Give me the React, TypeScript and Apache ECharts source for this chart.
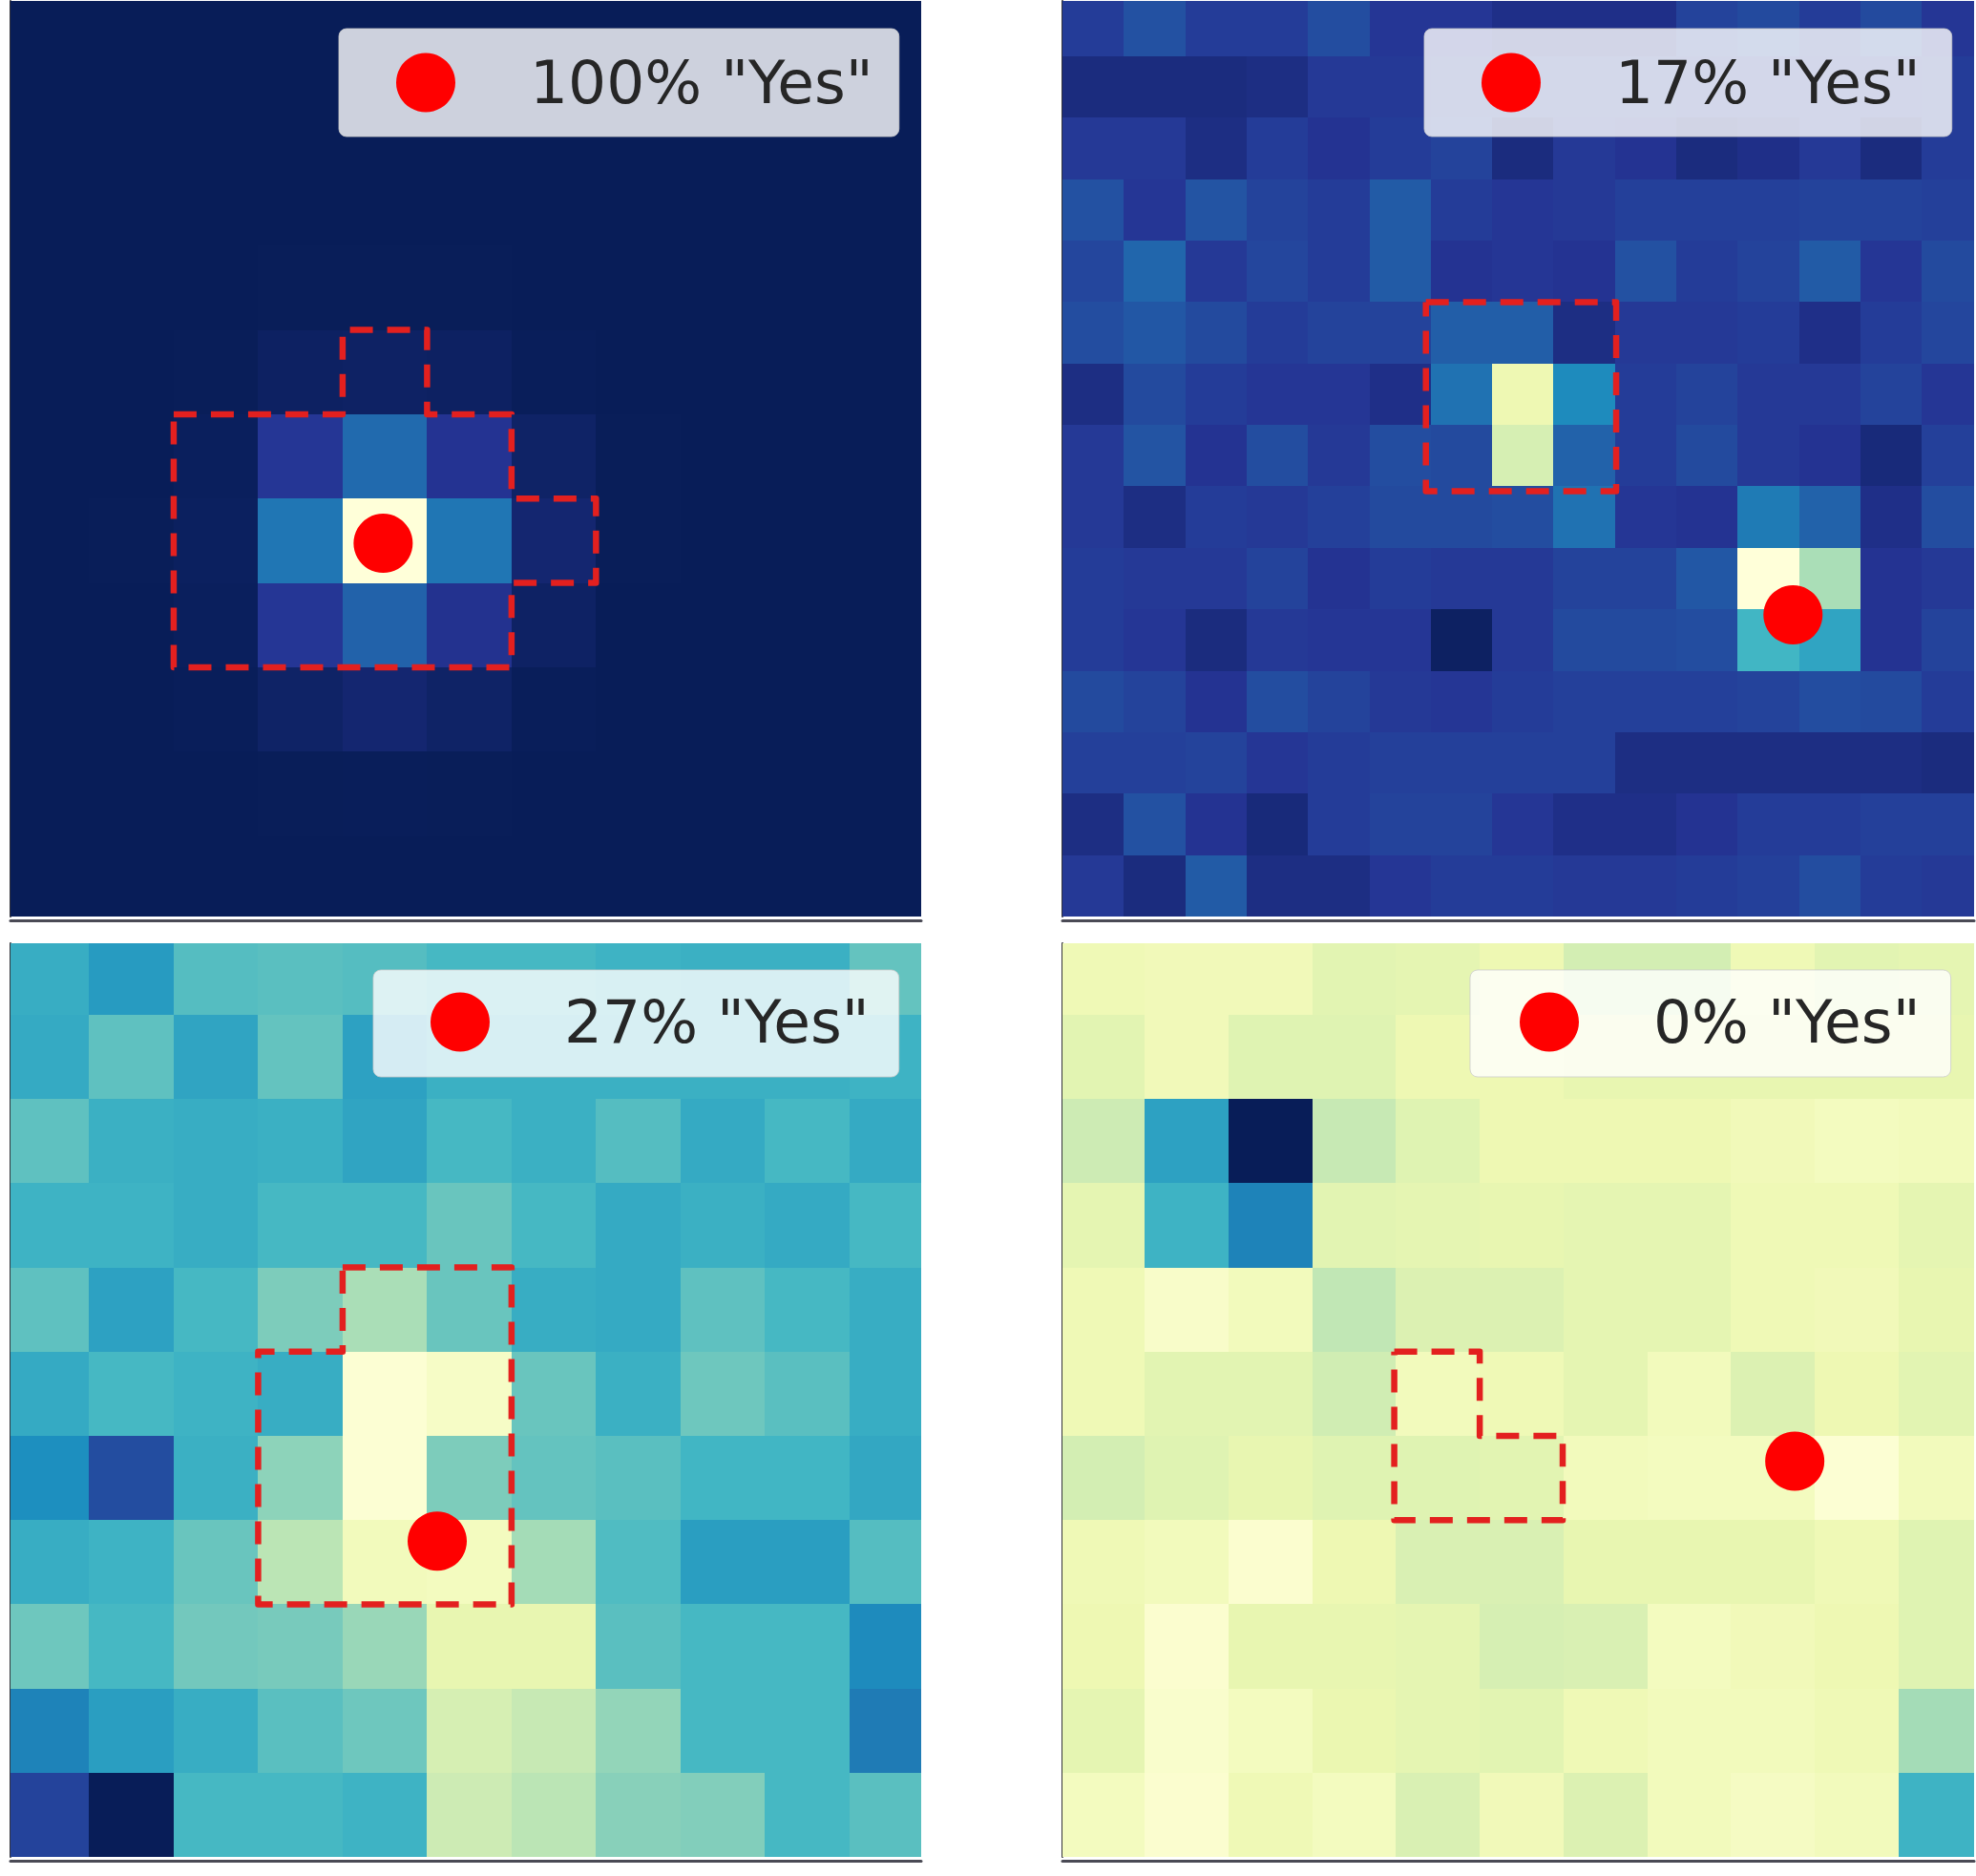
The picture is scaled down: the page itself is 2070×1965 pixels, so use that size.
import React, { useEffect, useRef } from "react";
import * as echarts from "echarts";

const colorStops = ["#081d58", "#253494", "#225ea8", "#1d91c0", "#41b6c4", "#7fcdbb", "#c7e9b4", "#edf8b1", "#ffffd9"];

const labels = ['100% "Yes"', '17% "Yes"', '27% "Yes"', '0% "Yes"'];

const panel1Rows = [
  [0,0,0,0,0,0,0,0,0,0,0],
  [0,0,0,0,0,0,0,0,0,0,0],
  [0,0,0,0,0,0,0,0,0,0,0],
  [0,0,0,0.003,0.003,0.003,0,0,0,0,0],
  [0,0,0.003,0.02,0.025,0.02,0.005,0,0,0,0],
  [0,0,0.01,0.13,0.28,0.12,0.03,0.003,0,0,0],
  [0,0.003,0.015,0.31,1,0.31,0.05,0.003,0,0,0],
  [0,0,0.01,0.13,0.26,0.115,0.025,0,0,0,0],
  [0,0,0.005,0.03,0.05,0.03,0.005,0,0,0,0],
  [0,0,0,0.003,0.005,0.003,0,0,0,0,0],
  [0,0,0,0,0,0,0,0,0,0,0],
];
const panel2Rows = [
  [.15,.21,.15,.15,.20,.13,.13,.10,.10,.10,.17,.19,.15,.19,.13],
  [.08,.08,.08,.09,.14,.14,.15,.15,.15,.15,.14,.14,.14,.14,.15],
  [.14,.14,.09,.15,.12,.15,.17,.08,.14,.12,.08,.10,.14,.08,.15],
  [.21,.13,.22,.17,.15,.24,.15,.13,.14,.16,.16,.16,.17,.17,.16],
  [.18,.27,.14,.18,.15,.24,.12,.13,.12,.21,.15,.17,.24,.13,.19],
  [.20,.23,.19,.15,.17,.17,.25,.25,.09,.14,.14,.15,.10,.15,.18],
  [.09,.19,.15,.13,.13,.10,.30,.88,.36,.15,.17,.14,.14,.17,.13],
  [.14,.22,.12,.20,.14,.20,.19,.80,.26,.15,.19,.14,.12,.07,.16],
  [.14,.09,.15,.14,.16,.19,.19,.20,.30,.13,.12,.32,.26,.10,.20],
  [.15,.14,.14,.17,.12,.15,.14,.14,.17,.17,.23,1,.70,.12,.14],
  [.15,.13,.08,.14,.13,.13,.02,.14,.19,.19,.20,.50,.44,.12,.17],
  [.19,.17,.12,.20,.17,.14,.13,.15,.16,.16,.16,.17,.20,.19,.15],
  [.16,.16,.17,.13,.15,.16,.16,.16,.16,.09,.09,.09,.09,.09,.08],
  [.09,.21,.12,.07,.15,.17,.17,.13,.10,.10,.12,.15,.15,.16,.16],
  [.14,.08,.24,.09,.09,.13,.15,.15,.14,.14,.15,.16,.20,.15,.14],
];
const panel3Rows = [
  [.47,.41,.54,.55,.54,.51,.51,.49,.48,.48,.57],
  [.46,.56,.44,.57,.43,.48,.48,.48,.48,.48,.49],
  [.56,.48,.47,.48,.44,.51,.48,.54,.46,.51,.46],
  [.49,.49,.47,.51,.51,.58,.51,.46,.48,.46,.51],
  [.56,.43,.51,.62,.70,.58,.47,.46,.56,.51,.47],
  [.46,.51,.49,.47,.98,.94,.58,.48,.59,.55,.47],
  [.37,.20,.48,.65,.98,.62,.57,.55,.50,.50,.45],
  [.47,.49,.58,.73,.91,.92,.69,.53,.42,.42,.54],
  [.59,.51,.60,.61,.67,.86,.86,.55,.51,.51,.36],
  [.34,.42,.47,.55,.59,.80,.75,.66,.51,.51,.32],
  [.17,0,.51,.51,.49,.77,.73,.64,.63,.51,.55],
];
const panel4Rows = [
  [.89,.90,.90,.84,.85,.88,.79,.79,.89,.84,.85],
  [.84,.90,.83,.83,.88,.88,.86,.86,.86,.86,.86],
  [.77,.43,0,.75,.83,.88,.88,.88,.90,.92,.91],
  [.85,.49,.34,.84,.85,.86,.85,.85,.89,.89,.85],
  [.89,.95,.91,.74,.82,.82,.85,.85,.89,.90,.86],
  [.89,.84,.84,.78,.91,.89,.85,.91,.82,.88,.84],
  [.79,.83,.86,.83,.83,.84,.91,.92,.92,.98,.91],
  [.89,.91,.97,.88,.81,.81,.86,.86,.86,.89,.83],
  [.88,.97,.86,.86,.85,.80,.81,.92,.90,.88,.83],
  [.85,.96,.92,.87,.85,.84,.89,.91,.91,.89,.69],
  [.92,.97,.89,.92,.81,.90,.82,.91,.93,.91,.49],
];

const outline1 = [[2,6],[4,6],[4,7],[5,7],[5,6],[6,6],[6,5],[7,5],[7,4],[6,4],[6,3],[2,3],[2,6]];
const outline2 = [[5.92,10],[9.02,10],[9.02,6.92],[5.92,6.92],[5.92,10]];
const outline3 = [[4,7],[6,7],[6,3],[3,3],[3,6],[4,6],[4,7]];
const outline4 = [[3.98,6],[5,6],[5,5],[5.99,5],[5.99,4],[3.98,4],[3.98,6]];

const dot1 = [4.48, 4.47];
const dot2 = [11.9, 4.91];
const dot3 = [5.12, 3.75];
const dot4 = [8.76, 4.7];

const panels = [
  { rows: panel1Rows, outline: outline1, dot: dot1, label: labels[0], left: 11, top: 1, width: 954, height: 959, xMin: 0.068, xMax: 10.85, yMin: 0.045, yMax: 10.9, box: [355, 30], pad: [25, 27, 25, 60] },
  { rows: panel2Rows, outline: outline2, dot: dot2, label: labels[1], left: 1113, top: 1, width: 955, height: 959, xMin: 0, xMax: 14.85, yMin: 0, yMax: 14.9, box: [1492, 30], pad: [25, 33, 25, 60] },
  { rows: panel3Rows, outline: outline3, dot: dot3, label: labels[2], left: 11, top: 988, width: 954, height: 957, xMin: 0.068, xMax: 10.85, yMin: 0, yMax: 10.85, box: [391, 1016], pad: [23, 31, 26, 60] },
  { rows: panel4Rows, outline: outline4, dot: dot4, label: labels[3], left: 1113, top: 988, width: 955, height: 957, xMin: 0.02, xMax: 10.9, yMin: 0, yMax: 10.85, box: [1540, 1016], pad: [23, 32, 26, 52] },
];

function cells(rows: number[][]) {
  const out: number[][] = [];
  rows.forEach((row, r) => row.forEach((v, c) => out.push([c, rows.length - 1 - r, v])));
  return out;
}

function renderCell(_params: any, api: any) {
  const x = api.value(0);
  const y = api.value(1);
  const a = api.coord([x, y + 1]);
  const b = api.coord([x + 1, y]);
  const l = Math.round(a[0]);
  const t = Math.round(a[1]);
  return {
    type: "rect",
    shape: { x: l, y: t, width: Math.round(b[0]) - l, height: Math.round(b[1]) - t },
    style: { fill: api.visual("color") },
  };
}

export default function App() {
  const ref = useRef<HTMLDivElement>(null);
  useEffect(() => {
    document.body.style.margin = "0";
    const chart = echarts.init(ref.current!, undefined, { renderer: "svg" });
    chart.setOption({
      animation: false,
      backgroundColor: "#ffffff",
      grid: panels.map((p) => ({ left: p.left, top: p.top, width: p.width, height: p.height })),
      xAxis: panels.map((p, i) => ({
        type: "value", gridIndex: i, min: p.xMin, max: p.xMax, offset: 4,
        splitLine: { show: false }, axisTick: { show: false }, axisLabel: { show: false },
        axisLine: { show: true, onZero: false, lineStyle: { color: "#4a4a55", width: 3 } },
      })),
      yAxis: panels.map((p, i) => ({
        type: "value", gridIndex: i, min: p.yMin, max: p.yMax,
        splitLine: { show: false }, axisTick: { show: false }, axisLabel: { show: false },
        axisLine: { show: true, onZero: false, lineStyle: { color: "#33333a", width: 2 } },
      })),
      visualMap: {
        show: false, type: "continuous", min: 0, max: 1, dimension: 2,
        seriesIndex: panels.map((_, i) => i * 3),
        inRange: { color: colorStops },
      },
      legend: panels.map((p) => ({
        data: [{ name: p.label, icon: "circle" }],
        left: p.box[0], top: p.box[1], orient: "horizontal", selectedMode: false,
        itemWidth: 62, itemHeight: 62,
        padding: p.pad,
        backgroundColor: "rgba(255,255,255,0.8)",
        borderColor: "rgba(204,204,204,0.8)", borderWidth: 1, borderRadius: 8,
        textStyle: { fontFamily: "DejaVu Sans", fontSize: 63, lineHeight: 62, color: "#262626", padding: [0, 0, 0, 73] },
      })),
      series: panels.flatMap((p, i) => [
        {
          type: "custom", name: "heat" + i, xAxisIndex: i, yAxisIndex: i, clip: true, z: 1,
          renderItem: renderCell, data: cells(p.rows), encode: { x: 0, y: 1 }, silent: true,
        },
        {
          type: "line", name: "outline" + i, xAxisIndex: i, yAxisIndex: i, z: 3, symbol: "none", silent: true,
          data: p.outline,
          lineStyle: { color: "#e3201f", width: 6.5, type: [24, 15], join: "round" },
        },
        {
          type: "scatter", name: p.label, xAxisIndex: i, yAxisIndex: i, z: 4, silent: true,
          symbol: "circle", symbolSize: 62, data: [p.dot],
          itemStyle: { color: "#ff0000", opacity: 1 },
        },
      ]),
    });
    return () => chart.dispose();
  }, []);
  return <div ref={ref} style={{ width: 2070, height: 1965 }} />;
}
